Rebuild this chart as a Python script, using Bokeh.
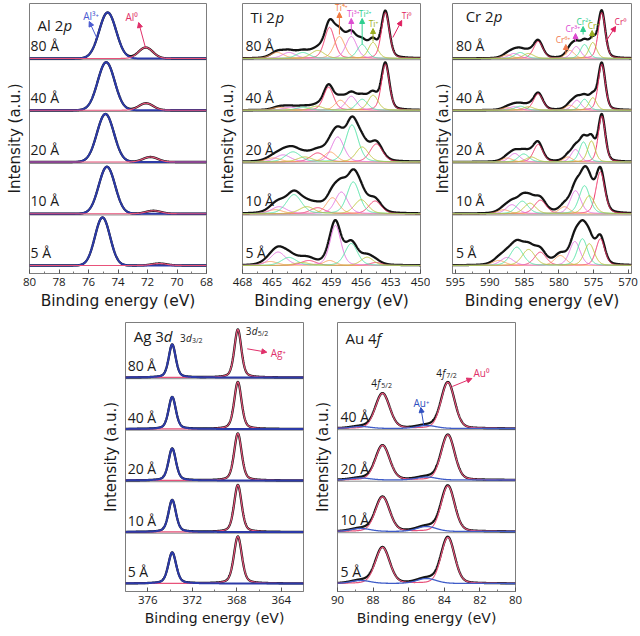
import numpy as np
from bokeh.plotting import figure
from bokeh.models import Range1d, FixedTicker, Label, Arrow, NormalHead, Span
from bokeh.layouts import row, column, Spacer
from bokeh.embed import file_html
from bokeh.resources import INLINE

FONT = "Open Sans"
AFONT = "DejaVu Sans"

# ---------------- data ----------------
thick_5 = ["80 Å", "40 Å", "20 Å", "10 Å", "5 Å"]
thick_4 = ["40 Å", "20 Å", "10 Å", "5 Å"]

al_ticks = [80, 78, 76, 74, 72, 70, 68]
al_minor = [79, 77, 75, 73, 71, 69]
ti_ticks = [468, 465, 462, 459, 456, 453, 450]
ti_minor = [466.5, 463.5, 460.5, 457.5, 454.5, 451.5]
cr_ticks = [595, 590, 585, 580, 575, 570]
cr_minor = [592.5, 587.5, 582.5, 577.5, 572.5]
ag_ticks = [376, 372, 368, 364]
ag_minor = [374, 370, 366]
au_ticks = [90, 88, 86, 84, 82, 80]
au_minor = [89, 87, 85, 83, 81]

# peaks: (centre eV, height a.u., FWHM eV), one list per thickness (top to bottom)
al_3plus = [[(74.70, 46, 1.35)], [(74.80, 48, 1.35)], [(74.85, 48, 1.35)],
            [(74.75, 47, 1.30)], [(75.05, 48, 1.20)]]
al_0 = [[(72.12, 11, 1.15)], [(72.10, 7, 1.15)], [(71.80, 5, 1.2)],
        [(71.60, 3, 1.2)], [(71.20, 2, 1.2)]]

ti_0 = [[(453.55, 46, 0.95), (459.2, 31, 1.2)],
        [(453.55, 46, 0.95), (459.3, 23, 1.2)],
        [(454.47, 18, 1.5), (460.4, 9, 1.7)],
        [(454.6, 12.7, 1.5), (460.4, 6, 1.7)],
        [(454.5, 3, 1.4), (461.3, 5, 1.8)]]
ti_1 = [[(454.8, 16, 1.1), (460.4, 8, 1.6)],
        [(454.8, 15, 1.2), (460.5, 4, 1.6)],
        [(455.9, 15, 1.5), (461.7, 5, 1.8)],
        [(456.0, 14, 1.6), (461.5, 7, 1.8)],
        [(455.4, 8.3, 1.5), (462.0, 3, 1.8)]]
ti_2 = [[(455.9, 14, 1.2), (461.9, 6, 1.6)],
        [(455.9, 11, 1.3), (461.9, 3, 1.6)],
        [(456.93, 37, 1.5), (462.9, 10, 1.8)],
        [(456.8, 31.7, 1.5), (462.8, 19, 1.8)],
        [(457.0, 22, 1.5), (463.3, 8, 1.8)]]
ti_3 = [[(457.0, 22, 1.3), (463.3, 6, 1.6)],
        [(457.0, 14, 1.3), (463.2, 3, 1.6)],
        [(458.37, 25, 1.5), (463.9, 7, 1.8)],
        [(458.0, 21.7, 1.5), (464.3, 7, 1.8)],
        [(458.6, 40, 1.3), (464.4, 13.3, 1.8)]]
ti_4 = [[(458.2, 22, 1.3), (464.5, 6, 1.6)],
        [(458.1, 10, 1.3), (464.3, 3, 1.6)],
        [(459.13, 10, 1.5), (464.9, 4, 1.8)],
        [(458.9, 16, 1.5), (464.7, 4, 1.8)],
        [(459.2, 5, 1.4), (465.2, 4, 1.8)]]

cr_0 = [[(573.8, 46, 1.2), (583.0, 17, 1.6)],
        [(573.8, 46, 1.2), (583.0, 16.5, 1.6)],
        [(573.8, 46, 1.2), (583.0, 17.5, 1.6)],
        [(574.0, 42, 1.5), (582.7, 13.5, 2.0)],
        [(574.0, 26.7, 1.5), (582.7, 13.3, 2.0)]]
cr_1 = [[(575.1, 16, 1.3), (584.4, 5, 1.8)],
        [(575.1, 12.5, 1.3), (584.4, 3.5, 1.8)],
        [(575.3, 21, 1.3), (584.0, 5, 1.8)],
        [(575.6, 18, 1.8), (584.2, 10.5, 2.0)],
        [(575.6, 21.7, 1.7), (584.4, 16, 2.2)]]
cr_2 = [[(576.3, 14, 1.4), (585.6, 6, 1.8)],
        [(576.3, 11, 1.4), (585.6, 4, 1.8)],
        [(576.45, 20, 1.4), (585.1, 8, 1.8)],
        [(576.3, 28, 1.8), (585.3, 12.5, 2.0)],
        [(576.6, 26.7, 1.7), (586.1, 18.3, 2.2)]]
cr_3 = [[(577.5, 12, 1.5), (586.5, 5, 1.8)],
        [(577.4, 10, 1.5), (586.5, 3.5, 1.8)],
        [(577.6, 12.5, 1.5), (586.4, 8.5, 1.8)],
        [(577.6, 23, 1.8), (586.8, 9, 2.0)],
        [(577.7, 24, 1.8), (587.5, 8, 2.2)]]
cr_6 = [[(578.4, 8, 1.5), (587.5, 3.5, 1.8)],
        [(578.4, 5, 1.5), (587.5, 2.5, 1.8)],
        [(578.7, 5, 1.5), (587.5, 4, 1.8)],
        [(579.2, 7, 1.8), (588.0, 4, 2.0)],
        [(579.8, 10, 2.0), (588.7, 5, 2.2)]]

ag_52 = [[(367.9, 48, 0.75)], [(367.9, 47, 0.78)], [(367.9, 47, 0.8)],
         [(367.9, 47, 0.8)], [(367.9, 47, 0.85)]]
ag_32 = [[(373.8, 33, 0.75)], [(373.8, 32, 0.78)], [(373.8, 32, 0.8)],
         [(373.8, 32, 0.8)], [(373.8, 31, 0.85)]]

au_0 = [[(83.8, 46, 0.9), (87.47, 35, 0.95)],
        [(83.8, 45, 0.9), (87.47, 34.5, 0.95)],
        [(83.8, 45.5, 0.9), (87.47, 34.5, 0.95)],
        [(83.8, 46, 0.9), (87.47, 36, 0.95)]]
au_1 = [[(85.0, 3, 1.3), (88.7, 2, 1.3)],
        [(85.0, 3, 1.3), (88.7, 2, 1.3)],
        [(85.0, 5, 1.3), (88.7, 3, 1.3)],
        [(85.0, 5, 1.3), (88.7, 3, 1.3)]]

# colours
BLACK = "#141414"
NAVY = "#2c3aa8"
PINK = "#e8527a"
C_RED = "#ef3468"
C_OLI = "#bcc43c"
C_GRN = "#52e2a6"
C_MAG = "#e272de"
C_ORA = "#f8a05e"
GRAY = "#7d7d7d"

TOP_OFF = [207, 155.25, 103.5, 51.75, 0]
BOT_OFF5 = [206, 154.5, 103, 51.5, 0]
BOT_OFF4 = [155, 103.5, 52, 0]


def pv(x, c, h, w, eta):
    d = (x - c) / w
    return h * ((1 - eta) * np.exp(-4 * np.log(2) * d * d) + eta / (1 + 4 * d * d))


def new_fig(width, xr, yr, bl, br, bt, ticks, minor, ylab_standoff, afs):
    p = figure(width=width, height=318, x_range=Range1d(*xr), y_range=Range1d(*yr),
               output_backend="svg", toolbar_location=None, title=None,
               min_border_left=bl, min_border_right=br, min_border_top=bt,
               min_border_bottom=318 - bt - 270 if bt < 4 else 45)
    p.xgrid.visible = False
    p.ygrid.visible = False
    p.outline_line_color = GRAY
    p.outline_line_width = 1
    p.background_fill_color = "white"
    p.border_fill_color = "white"
    xa = p.xaxis[0]
    xa.ticker = FixedTicker(ticks=ticks, minor_ticks=minor)
    xa.major_tick_in = 4
    xa.major_tick_out = 0
    xa.minor_tick_in = 2
    xa.minor_tick_out = 0
    xa.major_tick_line_color = "#555555"
    xa.minor_tick_line_color = "#777777"
    xa.axis_line_color = GRAY
    xa.major_label_text_font = FONT
    xa.major_label_text_font_size = "11.5px"
    xa.major_label_text_color = "#1a1a1a"
    xa.major_label_standoff = 4
    xa.axis_label = "Binding energy (eV)"
    xa.axis_label_text_font = AFONT
    xa.axis_label_text_font_size = afs
    xa.axis_label_text_font_style = "normal"
    xa.axis_label_text_color = "#1a1a1a"
    xa.axis_label_standoff = 3
    ya = p.yaxis[0]
    ya.ticker = FixedTicker(ticks=[])
    ya.major_tick_in = 0
    ya.major_tick_out = 0
    ya.minor_tick_in = 0
    ya.minor_tick_out = 0
    ya.major_label_standoff = 0
    ya.axis_line_color = None
    ya.axis_label = "Intensity (a.u.)"
    ya.axis_label_text_font = AFONT
    ya.axis_label_text_font_size = "15px"
    ya.axis_label_text_font_style = "normal"
    ya.axis_label_text_color = "#1a1a1a"
    ya.axis_label_standoff = ylab_standoff
    return p


def draw(p, xr, offs, species, eta):
    x = np.linspace(xr[0], xr[1], 800)
    for o in offs[:-1]:
        p.add_layout(Span(location=o - 1.2, dimension="width", line_color="#8a8a8a",
                          line_width=1, level="underlay"))
    for i, o in enumerate(offs):
        total = np.zeros_like(x)
        comps = []
        for color, lw, table in species:
            y = np.zeros_like(x)
            for (c, h, w) in table[i]:
                y += pv(x, c, h, w, eta)
            total += y
            comps.append((color, lw, y))
        p.line(x, total + o, line_color=BLACK, line_width=2.3)
        for color, lw, y in comps:
            p.line(x, y + o, line_color=color, line_width=lw)


def lab(p, x, y, text, size, color="#1a1a1a", align="left", style="normal", xo=0, yo=0):
    p.add_layout(Label(x=x, y=y, text=text, text_font=FONT, text_font_size=f"{size}px",
                       text_color=color, text_align=align, text_baseline="middle",
                       text_font_style=style, x_offset=xo, y_offset=yo))


def arr(p, x0, y0, x1, y1, color):
    p.add_layout(Arrow(end=NormalHead(size=5, line_color=color, fill_color=color, line_width=1),
                       x_start=x0, y_start=y0, x_end=x1, y_end=y1,
                       line_color=color, line_width=1))


def thick_labels(p, x, offs, labels, dy):
    for o, t in zip(offs, labels):
        lab(p, x, o + dy, t, 14)


# ---------------- (a) Al 2p ----------------
xa_r = (80, 68)
pa = new_fig(215, xa_r, (-8, 262), 29, 9, 3, al_ticks, al_minor, 6, "15.5px")
draw(pa, xa_r, TOP_OFF, [(NAVY, 2.0, al_3plus), (PINK, 1.2, al_0)], 0.0)
thick_labels(pa, 79.93, TOP_OFF, thick_5, 13)
lab(pa, 81.83, 255, "(a)", 14)
lab(pa, 79.46, 241, "Al 2", 15)
lab(pa, 79.46, 241, "p", 15, style="italic", xo=26)
lab(pa, 75.83, 250, "Al³⁺", 10, color="#4a5ad0", align="center")
arr(pa, 75.45, 228, 75.95, 244, "#4a5ad0")
lab(pa, 73.08, 249, "Al⁰", 10, color="#e0306a", align="center")
arr(pa, 72.14, 218, 72.6, 243, "#e0306a")

# ---------------- (b) Ti 2p ----------------
xb_r = (468, 450)
pb = new_fig(215, xb_r, (-8, 262), 25, 10, 3, ti_ticks, ti_minor, 6, "15.5px")
draw(pb, xb_r, TOP_OFF, [(C_RED, 1, ti_0), (C_ORA, 1, ti_4), (C_MAG, 1, ti_3),
                         (C_GRN, 1, ti_2), (C_OLI, 1, ti_1)], 0.3)
thick_labels(pb, 467.7, TOP_OFF, thick_5, 13)
lab(pb, 470.3, 257, "(b)", 14)
lab(pb, 467.2, 249, "Ti 2", 15)
lab(pb, 467.2, 249, "p", 15, style="italic", xo=25)
lab(pb, 458.0, 258, "Ti⁴⁺", 8.5, color="#f07a40", align="center")
arr(pb, 458.2, 231, 458.2, 253, "#f07a40")
lab(pb, 456.8, 252, "Ti³⁺", 8.5, color="#dc4cd0", align="center")
arr(pb, 457.0, 231, 457.0, 247, "#dc4cd0")
lab(pb, 455.6, 252, "Ti²⁺", 8.5, color="#2ecf8e", align="center")
arr(pb, 455.9, 221, 455.9, 247, "#2ecf8e")
lab(pb, 454.75, 242, "Ti⁺", 8.5, color="#9aae20", align="center")
arr(pb, 454.8, 224, 454.8, 237, "#9aae20")
lab(pb, 451.4, 250, "Ti⁰", 8.5, color="#e02060", align="center")
arr(pb, 452.8, 228, 451.9, 245, "#e02060")

# ---------------- (c) Cr 2p ----------------
xc_r = (595.4, 569.5)
pc = new_fig(210, xc_r, (-8, 262), 20, 9, 3, cr_ticks, cr_minor, 1, "15.5px")
draw(pc, xc_r, TOP_OFF, [(C_RED, 1, cr_0), (C_ORA, 1, cr_6), (C_MAG, 1, cr_3),
                         (C_GRN, 1, cr_2), (C_OLI, 1, cr_1)], 0.3)
thick_labels(pc, 594.9, TOP_OFF, thick_5, 13)
lab(pc, 598.1, 257, "(c)", 14)
lab(pc, 593.5, 250, "Cr 2", 15)
lab(pc, 593.5, 250, "p", 15, style="italic", xo=28)
lab(pc, 579.4, 226, "Cr⁶⁺", 8.5, color="#f07a50", align="center")
arr(pc, 579.0, 211, 579.0, 221, "#f07a50")
lab(pc, 578.0, 237, "Cr³⁺", 8.5, color="#dc4cd0", align="center")
arr(pc, 577.6, 224, 577.6, 232, "#dc4cd0")
lab(pc, 576.4, 244, "Cr²⁺", 8.5, color="#2ecf8e", align="center")
arr(pc, 576.5, 231, 576.5, 239, "#2ecf8e")
lab(pc, 575.0, 240, "Cr⁺", 8.5, color="#9aae20", align="center")
arr(pc, 575.2, 227, 575.2, 235, "#9aae20")
lab(pc, 571.1, 244, "Cr⁰", 8.5, color="#e02060", align="center")
arr(pc, 573.2, 224, 571.8, 239, "#e02060")

# ---------------- (d) Ag 3d ----------------
xd_r = (378, 362)
pd_ = new_fig(220, xd_r, (-8, 261), 35, 7, 4, ag_ticks, ag_minor, 6, "14px")
draw(pd_, xd_r, BOT_OFF5, [(PINK, 1.2, ag_52), (NAVY, 2.0, ag_32)], 0.4)
thick_labels(pd_, 377.8, BOT_OFF5, thick_5, 12)
lab(pd_, 380.7, 248, "(d)", 14)
lab(pd_, 377.25, 248, "Ag 3", 15)
lab(pd_, 377.25, 248, "d", 15, style="italic", xo=30)
lab(pd_, 373.1, 246, "3", 10)
lab(pd_, 373.1, 246, "d", 10, style="italic", xo=6)
lab(pd_, 373.1, 246, "3/2", 7, xo=12, yo=-3)
lab(pd_, 367.2, 253, "3", 10)
lab(pd_, 367.2, 253, "d", 10, style="italic", xo=6)
lab(pd_, 367.2, 253, "5/2", 7, xo=12, yo=-3)
lab(pd_, 364.95, 231, "Ag⁺", 10, color="#e0306a")
arr(pd_, 367.06, 234.7, 365.3, 231.3, "#e0306a")

# ---------------- (e) Au 4f ----------------
xe_r = (90, 80)
pe = new_fig(230, xe_r, (-8, 261), 27, 25, 4, au_ticks, au_minor, 6, "14px")
draw(pe, xe_r, BOT_OFF4, [(PINK, 1.2, au_0), ("#3f5cc8", 1.3, au_1)], 0.2)
thick_labels(pe, 89.83, BOT_OFF4, thick_4, 12)
lab(pe, 91.2, 248, "(e)", 14)
lab(pe, 89.55, 246, "Au 4", 15)
lab(pe, 89.55, 246, "f", 15, style="italic", xo=31)
lab(pe, 88.1, 201, "4", 10)
lab(pe, 88.1, 201, "f", 10, style="italic", xo=6)
lab(pe, 88.1, 201, "5/2", 7, xo=10, yo=-3)
lab(pe, 84.45, 211, "4", 10)
lab(pe, 84.45, 211, "f", 10, style="italic", xo=6)
lab(pe, 84.45, 211, "7/2", 7, xo=10, yo=-3)
lab(pe, 82.36, 211, "Au⁰", 10, color="#e0306a")
arr(pe, 83.55, 197, 82.45, 205, "#e0306a")
lab(pe, 85.73, 181, "Au⁺", 10, color="#3050c0")
arr(pe, 85.15, 158, 85.32, 176, "#3050c0")

layout = column(row(pa, pb, pc), row(Spacer(width=90, height=318), pd_, pe))
open("out.html", "w").write(file_html(layout, INLINE))
